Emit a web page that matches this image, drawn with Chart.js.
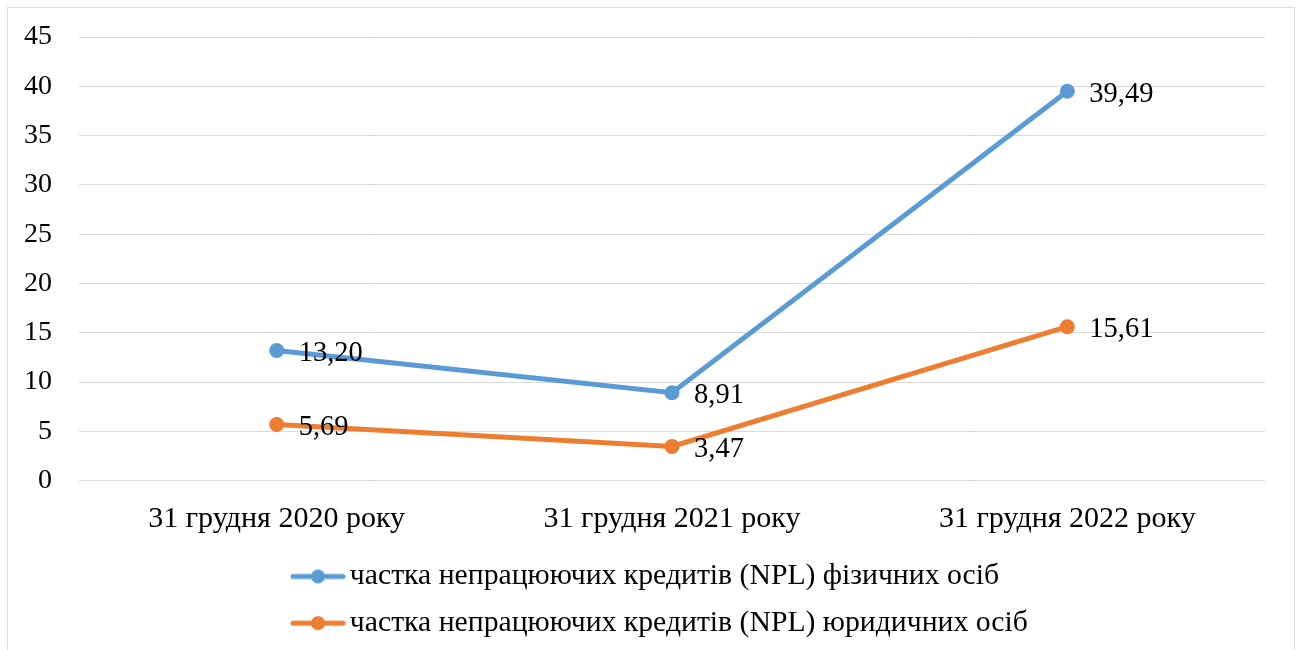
<!DOCTYPE html>
<html lang="uk">
  <head>
    <meta charset="UTF-8" />
    <title>NPL</title>
    <script src="https://cdn.jsdelivr.net/npm/chart.js@4.4.0/dist/chart.umd.min.js"></script>
    <style>
      html, body { margin: 0; padding: 0; background: #fff; }
      #frame {
        position: absolute; left: 7px; top: 7px;
        width: 1286px; height: 660px;
        border: 1px solid #d9d9d9;
      }
      #wrap { position: absolute; left: 0; top: 0; width: 1304px; height: 650px; }
    </style>
  </head>
  <body>
    <div id="frame"></div>
    <div id="wrap"><canvas id="chart"></canvas></div>
    <script>
      // дані
      const categories = ['31 грудня 2020 року', '31 грудня 2021 року', '31 грудня 2022 року'];
      const fizOsoby = [13.20, 8.91, 39.49];
      const yurOsoby = [5.69, 3.47, 15.61];
      const seriesNames = [
        'частка непрацюючих кредитів (NPL) фізичних осіб',
        'частка непрацюючих кредитів (NPL) юридичних осіб'
      ];
      const yTicks = [0, 5, 10, 15, 20, 25, 30, 35, 40, 45];

      const FONT = 'Liberation Serif, Times New Roman, serif';
      const BLUE = '#5b9bd5';
      const ORANGE = '#ed7d31';

      // маркер легенди: лінія з точкою
      const legendMark = (color) => {
        const c = document.createElement('canvas');
        c.width = 56; c.height = 16;
        const ctx = c.getContext('2d');
        ctx.strokeStyle = color;
        ctx.lineWidth = 5;
        ctx.lineCap = 'round';
        ctx.beginPath();
        ctx.moveTo(3, 8); ctx.lineTo(53, 8);
        ctx.stroke();
        ctx.fillStyle = color;
        ctx.beginPath();
        ctx.arc(28, 8, 7, 0, Math.PI * 2);
        ctx.fill();
        return c;
      };
      const marks = [legendMark(BLUE), legendMark(ORANGE)];

      // підписи значень
      const valueLabels = {
        id: 'valueLabels',
        afterDatasetsDraw(chart) {
          const ctx = chart.ctx;
          ctx.save();
          ctx.font = '28.5px ' + FONT;
          ctx.fillStyle = '#000';
          ctx.textAlign = 'left';
          ctx.textBaseline = 'middle';
          chart.data.datasets.forEach((ds, i) => {
            chart.getDatasetMeta(i).data.forEach((pt, j) => {
              ctx.fillText(ds.data[j].toFixed(2).replace('.', ','), pt.x + 22, pt.y + 3);
            });
          });
          ctx.restore();
        }
      };

      // легенда вирівняна зліва, як в оригіналі
      const legendShift = {
        id: 'legendShift',
        afterLayout(chart) {
          chart.legend.left = 284;
        }
      };

      new Chart(document.getElementById('chart'), {
        type: 'line',
        data: {
          labels: categories,
          datasets: [
            {
              label: seriesNames[0],
              data: fizOsoby,
              borderColor: BLUE,
              backgroundColor: BLUE,
              borderWidth: 5,
              pointRadius: 7.5,
              pointHoverRadius: 7.5,
              pointBorderWidth: 0,
              fill: false,
              tension: 0
            },
            {
              label: seriesNames[1],
              data: yurOsoby,
              borderColor: ORANGE,
              backgroundColor: ORANGE,
              borderWidth: 5,
              pointRadius: 7.5,
              pointHoverRadius: 7.5,
              pointBorderWidth: 0,
              fill: false,
              tension: 0
            }
          ]
        },
        options: {
          responsive: true,
          maintainAspectRatio: false,
          animation: false,
          layout: { padding: { left: -3, right: 39, top: 37, bottom: 2 } },
          scales: {
            x: {
              offset: true,
              afterFit: (axis) => { axis.height = 64; },
              grid: { display: false, drawTicks: false },
              border: { display: false },
              ticks: { color: '#000', font: { family: FONT, size: 30, lineHeight: 0.14 }, padding: 36, maxRotation: 0 }
            },
            y: {
              min: 0,
              max: 45,
              afterBuildTicks: (axis) => { axis.ticks = yTicks.map((v) => ({ value: v })); },
              afterFit: (axis) => { axis.paddingTop = 0; axis.paddingBottom = 0; },
              grid: { color: '#d9d9d9', lineWidth: 1, drawTicks: false },
              border: { display: false },
              ticks: { color: '#000', font: { family: FONT, size: 28 }, padding: 27 }
            }
          },
          plugins: {
            tooltip: { enabled: false },
            legend: {
              position: 'bottom',
              align: 'start',
              labels: {
                color: '#000',
                font: { family: FONT, size: 29.7 },
                usePointStyle: true,
                pointStyleWidth: 34,
                padding: 17,
                generateLabels: (chart) => {
                  const items = Chart.defaults.plugins.legend.labels.generateLabels(chart);
                  items.forEach((it, i) => { it.pointStyle = marks[i]; });
                  return items;
                }
              }
            }
          }
        },
        plugins: [valueLabels, legendShift]
      });
    </script>
  </body>
</html>
